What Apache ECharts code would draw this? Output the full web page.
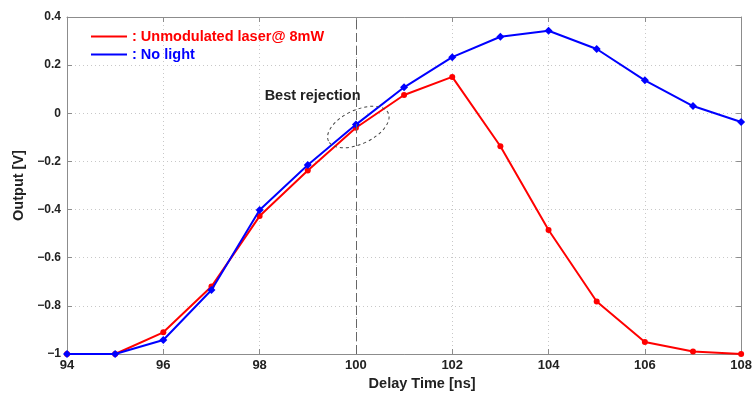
<!DOCTYPE html>
<html>
<head>
<meta charset="utf-8">
<script src="https://cdn.jsdelivr.net/npm/echarts@6/dist/echarts.min.js"></script>
<style>
  html, body { margin: 0; padding: 0; background: #fff; }
  #chart { width: 755px; height: 403px; }
</style>
</head>
<body>
<div id="chart"></div>
<script>
// delay times (ns)
const delays = [94, 95, 96, 97, 98, 99, 100, 101, 102, 103, 104, 105, 106, 107, 108]
const laserOutput = [-1.0, -1.0, -0.91, -0.72, -0.427, -0.238, -0.06, 0.076, 0.151, -0.137, -0.485, -0.782, -0.95, -0.99, -1.0]
const darkOutput = [-1.0, -1.0, -0.942, -0.734, -0.402, -0.215, -0.047, 0.108, 0.233, 0.318, 0.343, 0.267, 0.137, 0.03, -0.036]
const xTicks = ['94', '96', '98', '100', '102', '104', '106', '108']
const yTicks = ['\u22121', '\u22120.8', '\u22120.6', '\u22120.4', '\u22120.2', '0', '0.2', '0.4']

const FONT = '"Liberation Sans", Arial, sans-serif'
const chart = echarts.init(document.getElementById('chart'))

const pair = arr => delays.map((d, i) => [d, arr[i]])
const xLabel = v => xTicks[Math.round((v - 94) / 2)] ?? ''
const yLabel = v => yTicks[Math.round((v + 1) / 0.2)] ?? ''

const frameAxis = {
  axisLine: { show: true, onZero: false, lineStyle: { color: '#8c8c8c', width: 1 } },
  axisTick: { show: true, inside: true, length: 5, lineStyle: { color: '#8c8c8c' } },
}

chart.setOption({
  animation: false,
  textStyle: { fontFamily: FONT },
  grid: { left: 67, right: 8, top: 17, bottom: 49 },
  legend: {
    orient: 'vertical',
    left: 86,
    top: 24,
    itemWidth: 36,
    itemHeight: 2,
    itemGap: 3,
    icon: 'rect',
    formatter: name => ': ' + name,
    textStyle: { fontSize: 14.5, fontWeight: 'bold', fontFamily: FONT },
    data: [
      { name: 'Unmodulated laser@ 8mW', textStyle: { color: '#ff0000' } },
      { name: 'No light', textStyle: { color: '#0000ff' } },
    ],
  },
  xAxis: [{
    type: 'value', min: 94, max: 108, interval: 2,
    name: 'Delay Time [ns]', nameLocation: 'middle', nameGap: 22,
    nameTextStyle: { fontSize: 14.5, fontWeight: 'bold', color: '#222', padding: [0, 0, 0, 36] },
    ...frameAxis,
    axisLabel: { formatter: xLabel, fontSize: 13, fontWeight: 'bold', color: '#222', margin: 5 },
    splitLine: { show: true, lineStyle: { color: '#c8c8c8', type: [1, 3] } },
  }, {
    type: 'value', min: 94, max: 108, interval: 2, position: 'top',
    ...frameAxis, axisLabel: { show: false }, splitLine: { show: false },
  }],
  yAxis: [{
    type: 'value', min: -1, max: 0.4, interval: 0.2,
    name: 'Output [V]', nameLocation: 'middle', nameGap: 38,
    nameTextStyle: { fontSize: 14.5, fontWeight: 'bold', color: '#222' },
    ...frameAxis,
    axisLabel: { formatter: yLabel, fontSize: 12, fontWeight: 'bold', color: '#222', margin: 6 },
    splitLine: { show: true, lineStyle: { color: '#c8c8c8', type: [1, 3] } },
  }, {
    type: 'value', min: -1, max: 0.4, interval: 0.2, position: 'right',
    ...frameAxis, axisLabel: { show: false }, splitLine: { show: false },
  }],
  series: [
    {
      name: 'Unmodulated laser@ 8mW',
      type: 'line',
      data: pair(laserOutput),
      symbol: 'circle',
      symbolSize: 6,
      color: '#ff0000',
      lineStyle: { width: 2 },
      z: 3,
      markLine: {
        silent: true,
        symbol: 'none',
        label: { show: false },
        lineStyle: { color: '#666', type: [9, 4], width: 1 },
        data: [{ xAxis: 100 }],
      },
    },
    {
      name: 'No light',
      type: 'line',
      data: pair(darkOutput),
      symbol: 'diamond',
      symbolSize: 8,
      color: '#0000ff',
      lineStyle: { width: 2 },
      z: 4,
    },
  ],
})

// annotations placed through the axis scales
const ell = chart.convertToPixel({ gridIndex: 0 }, [100.05, -0.057])
const txt = chart.convertToPixel({ gridIndex: 0 }, [99.1, 0.072])
chart.setOption({
  graphic: [
    {
      type: 'ellipse',
      x: ell[0], y: ell[1],
      rotation: 25 * Math.PI / 180,
      shape: { cx: 0, cy: 0, rx: 33, ry: 17 },
      style: { fill: 'none', stroke: '#444', lineWidth: 1, lineDash: [3, 3] },
      z: 10,
    },
    {
      type: 'text',
      x: txt[0], y: txt[1],
      style: {
        text: 'Best rejection',
        fill: '#222',
        font: 'bold 14.5px ' + FONT,
        align: 'center',
        verticalAlign: 'middle',
      },
      z: 10,
    },
  ],
})
</script>
</body>
</html>
